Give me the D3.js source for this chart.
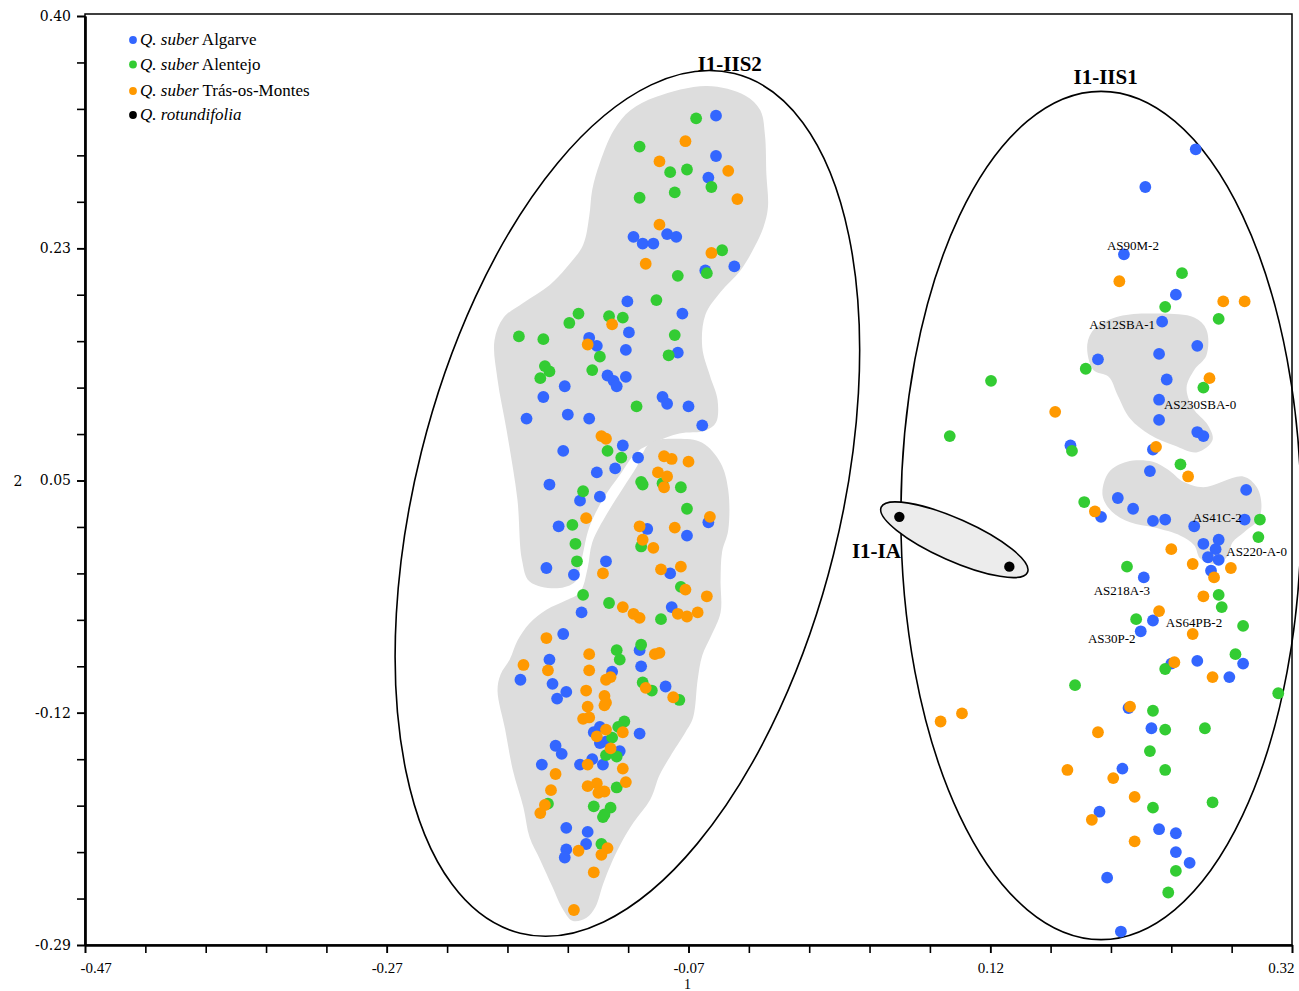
<!DOCTYPE html>
<html><head><meta charset="utf-8">
<script src="https://cdn.jsdelivr.net/npm/d3@7"></script>
<style>
html,body{margin:0;padding:0;background:#fff;}
svg{display:block;font-family:"Liberation Serif","Times New Roman",serif;}
</style></head><body>
<svg id="chart" width="1299" height="991"></svg>
<script>
// ---- axes ----
const xDomain = [-0.47, 0.32];
const yDomain = [-0.29, 0.40];
const xTickLabels = ["-0.47", "-0.27", "-0.07", "0.12", "0.32"];
const yTickLabels = ["-0.29", "-0.12", "0.05", "0.23", "0.40"];
const xTitle = "1";
const yTitle = "2";

// ---- samples (coordinate 1, coordinate 2) ----
const algarve = [
[-0.057,0.326],[-0.057,0.296],[-0.062,0.280],[-0.111,0.236],[-0.105,0.231],[-0.098,0.231],[-0.089,0.238],[-0.083,0.236],[-0.064,0.211],[-0.045,0.214],
[-0.115,0.188],[-0.079,0.179],[-0.114,0.165],[-0.140,0.161],[-0.135,0.155],[-0.116,0.152],[-0.082,0.150],[-0.128,0.133],[-0.124,0.129],[-0.122,0.125],
[-0.116,0.132],[-0.156,0.125],[-0.170,0.117],[-0.092,0.117],[-0.089,0.112],[-0.075,0.110],[-0.181,0.101],[-0.154,0.104],[-0.140,0.101],[-0.066,0.096],
[-0.118,0.081],[-0.157,0.077],[-0.108,0.072],[-0.123,0.064],[-0.135,0.061],[-0.166,0.052],[-0.146,0.040],[-0.133,0.043],[-0.062,0.024],[-0.160,0.021],
[-0.102,0.019],[-0.076,0.014],[-0.129,-0.005],[-0.168,-0.010],[-0.150,-0.015],[-0.087,-0.014],[-0.145,-0.043],[-0.086,-0.039],[-0.157,-0.059],[-0.107,-0.071],
[-0.166,-0.078],[-0.106,-0.083],[-0.125,-0.087],[-0.185,-0.093],[-0.164,-0.096],[-0.090,-0.098],[-0.155,-0.102],[-0.161,-0.107],[-0.137,-0.132],[-0.133,-0.128],
[-0.107,-0.133],[-0.133,-0.140],[-0.129,-0.139],[-0.120,-0.146],[-0.162,-0.142],[-0.158,-0.148],[-0.171,-0.156],[-0.146,-0.156],[-0.138,-0.152],[-0.131,-0.156],
[-0.155,-0.203],[-0.141,-0.206],[-0.142,-0.215],[-0.155,-0.219],[-0.156,-0.225],
[0.257,0.301],[0.224,0.273],[0.210,0.223],[0.244,0.193],[0.235,0.173],[0.258,0.155],[0.193,0.145],[0.233,0.149],[0.238,0.130],[0.233,0.115],
[0.233,0.100],[0.258,0.091],[0.262,0.088],[0.175,0.081],[0.229,0.078],[0.227,0.062],[0.290,0.048],[0.206,0.042],[0.216,0.034],[0.195,0.028],
[0.229,0.025],[0.237,0.026],[0.289,0.026],[0.256,0.021],[0.272,0.011],[0.262,0.008],[0.270,0.004],[0.265,-0.002],[0.272,-0.004],[0.267,-0.012],
[0.223,-0.017],[0.229,-0.049],[0.221,-0.057],[0.288,-0.081],[0.258,-0.079],[0.241,-0.081],[0.279,-0.091],[0.213,-0.114],[0.228,-0.129],[0.209,-0.159],
[0.194,-0.191],[0.233,-0.204],[0.244,-0.207],[0.244,-0.221],[0.253,-0.229],[0.199,-0.240],[0.208,-0.280]
];
const alentejo = [
[-0.070,0.324],[-0.107,0.303],[-0.087,0.284],[-0.076,0.286],[-0.060,0.273],[-0.107,0.265],[-0.084,0.269],[-0.053,0.226],[-0.082,0.207],[-0.063,0.209],
[-0.096,0.189],[-0.147,0.179],[-0.153,0.172],[-0.127,0.177],[-0.118,0.176],[-0.186,0.162],[-0.170,0.160],[-0.084,0.163],[-0.088,0.148],[-0.133,0.147],
[-0.169,0.140],[-0.166,0.136],[-0.172,0.131],[-0.138,0.137],[-0.109,0.110],[-0.128,0.077],[-0.119,0.072],[-0.106,0.054],[-0.105,0.052],[-0.092,0.053],
[-0.080,0.050],[-0.144,0.047],[-0.076,0.034],[-0.151,0.022],[-0.106,0.006],[-0.149,0.008],[-0.148,-0.005],[-0.080,-0.024],[-0.144,-0.030],[-0.127,-0.036],
[-0.093,-0.048],[-0.122,-0.071],[-0.106,-0.067],[-0.120,-0.078],[-0.105,-0.095],[-0.099,-0.101],[-0.081,-0.108],[-0.117,-0.124],[-0.121,-0.128],[-0.125,-0.136],
[-0.129,-0.149],[-0.122,-0.150],[-0.122,-0.173],[-0.167,-0.185],[-0.137,-0.187],[-0.126,-0.188],[-0.131,-0.195],[-0.130,-0.193],[-0.132,-0.215],
[0.248,0.209],[0.237,0.184],[0.272,0.175],[0.185,0.138],[0.262,0.124],[0.123,0.129],[0.096,0.088],[0.176,0.077],[0.247,0.067],[0.184,0.039],
[0.299,0.026],[0.298,0.013],[0.212,-0.009],[0.272,-0.030],[0.274,-0.039],[0.218,-0.048],[0.288,-0.053],[0.283,-0.074],[0.237,-0.085],[0.178,-0.097],
[0.311,-0.103],[0.229,-0.116],[0.237,-0.130],[0.263,-0.129],[0.227,-0.146],[0.237,-0.160],[0.229,-0.188],[0.268,-0.184],[0.244,-0.235],[0.239,-0.251]
];
const trasOsMontes = [
[-0.077,0.307],[-0.094,0.292],[-0.049,0.285],[-0.043,0.264],[-0.094,0.245],[-0.060,0.224],[-0.103,0.216],[-0.125,0.171],[-0.141,0.156],[-0.132,0.088],
[-0.129,0.086],[-0.091,0.073],[-0.086,0.071],[-0.075,0.069],[-0.095,0.061],[-0.089,0.058],[-0.091,0.050],[-0.061,0.028],[-0.142,0.027],[-0.107,0.021],
[-0.084,0.020],[-0.105,0.011],[-0.098,0.005],[-0.131,-0.014],[-0.093,-0.011],[-0.080,-0.009],[-0.077,-0.026],[-0.063,-0.031],[-0.118,-0.039],[-0.111,-0.044],
[-0.107,-0.047],[-0.082,-0.044],[-0.076,-0.046],[-0.069,-0.043],[-0.168,-0.062],[-0.097,-0.074],[-0.094,-0.073],[-0.183,-0.082],[-0.140,-0.074],[-0.167,-0.086],
[-0.140,-0.086],[-0.129,-0.093],[-0.126,-0.091],[-0.103,-0.099],[-0.142,-0.101],[-0.130,-0.105],[-0.129,-0.110],[-0.130,-0.112],[-0.085,-0.106],[-0.141,-0.113],
[-0.144,-0.122],[-0.140,-0.121],[-0.129,-0.130],[-0.118,-0.132],[-0.135,-0.135],[-0.126,-0.144],[-0.141,-0.156],[-0.162,-0.163],[-0.118,-0.159],[-0.116,-0.169],
[-0.165,-0.175],[-0.141,-0.172],[-0.135,-0.170],[-0.134,-0.177],[-0.130,-0.176],[-0.169,-0.186],[-0.172,-0.192],[-0.128,-0.218],[-0.132,-0.223],[-0.147,-0.220],
[-0.137,-0.236],[-0.150,-0.264],
[0.207,0.203],[0.275,0.188],[0.289,0.188],[0.266,0.131],[0.165,0.106],[0.231,0.080],[0.252,0.058],[0.191,0.032],[0.241,0.004],[0.255,-0.007],
[0.280,-0.010],[0.269,-0.017],[0.262,-0.031],[0.233,-0.042],[0.255,-0.059],[0.243,-0.080],[0.268,-0.091],[0.090,-0.124],[0.104,-0.118],[0.214,-0.113],
[0.193,-0.132],[0.173,-0.160],[0.203,-0.166],[0.217,-0.180],[0.189,-0.197],[0.217,-0.213]
];
const rotundifolia = [[0.063,0.028],[0.135,-0.009]];

// named Algarve samples (index into algarve)
const sampleNames = ["AS90M-2","AS12SBA-1","AS230SBA-0","AS41C-2","AS220-A-0","AS218A-3","AS64PB-2","AS30P-2"];
const sampleIndex = [77, 79, 84, 98, 101, 105, 106, 107];

// ---- group outlines ----
const hullIIS2upper = [
[-0.096,0.340],[-0.063,0.348],[-0.038,0.341],[-0.028,0.330],[-0.025,0.312],[-0.024,0.282],[-0.023,0.258],[-0.026,0.243],[-0.032,0.228],[-0.041,0.211],
[-0.054,0.195],[-0.064,0.178],[-0.066,0.154],[-0.061,0.133],[-0.056,0.115],[-0.057,0.098],[-0.064,0.092],[-0.081,0.090],[-0.096,0.084],[-0.109,0.076],
[-0.120,0.059],[-0.131,0.041],[-0.140,0.020],[-0.145,-0.004],[-0.149,-0.020],[-0.161,-0.025],[-0.179,-0.020],[-0.184,-0.004],[-0.187,0.041],[-0.194,0.092],
[-0.200,0.130],[-0.202,0.159],[-0.196,0.176],[-0.183,0.187],[-0.166,0.200],[-0.155,0.213],[-0.144,0.230],[-0.140,0.251],[-0.138,0.271],[-0.133,0.291],
[-0.124,0.315],[-0.113,0.330]
];
const hullIIS2lower = [
[-0.100,0.083],[-0.082,0.086],[-0.066,0.083],[-0.054,0.068],[-0.049,0.048],[-0.049,0.018],[-0.053,0.002],[-0.054,-0.019],[-0.054,-0.043],[-0.060,-0.060],
[-0.066,-0.075],[-0.069,-0.093],[-0.072,-0.121],[-0.077,-0.132],[-0.087,-0.150],[-0.094,-0.164],[-0.100,-0.182],[-0.111,-0.199],[-0.118,-0.212],[-0.125,-0.228],
[-0.131,-0.245],[-0.136,-0.262],[-0.142,-0.270],[-0.151,-0.272],[-0.158,-0.262],[-0.164,-0.247],[-0.172,-0.227],[-0.179,-0.210],[-0.183,-0.188],[-0.190,-0.160],
[-0.195,-0.130],[-0.200,-0.101],[-0.198,-0.089],[-0.192,-0.078],[-0.187,-0.064],[-0.179,-0.051],[-0.168,-0.041],[-0.155,-0.034],[-0.146,-0.028],[-0.141,-0.010],
[-0.138,0.009],[-0.128,0.031],[-0.118,0.049],[-0.109,0.065]
];
const hullIIS1upper = [
[0.186,0.156],[0.191,0.168],[0.207,0.177],[0.234,0.179],[0.256,0.176],[0.264,0.167],[0.264,0.148],[0.256,0.137],[0.251,0.124],[0.255,0.109],
[0.265,0.096],[0.268,0.085],[0.258,0.076],[0.243,0.081],[0.227,0.089],[0.214,0.101],[0.206,0.118],[0.200,0.132],[0.190,0.137]
];
const hullIIS1lower = [
[0.196,0.044],[0.200,0.061],[0.212,0.069],[0.229,0.069],[0.239,0.063],[0.249,0.054],[0.262,0.050],[0.288,0.058],[0.297,0.050],[0.300,0.037],
[0.298,0.026],[0.289,0.017],[0.281,0.009],[0.278,-0.001],[0.270,-0.007],[0.260,-0.003],[0.256,0.007],[0.247,0.014],[0.230,0.020],[0.214,0.024],
[0.202,0.032]
];

// ---- cluster ellipses (centre, semi-axes in data units, tilt in degrees) ----
const clusterNames = ["I1-IIS2", "I1-IIS1", "I1-IA"];
const clusterCentres = [[-0.115, 0.038], [0.195, 0.029], [0.099, 0.011]];
const clusterRadii = [[0.139, 0.329], [0.131, 0.315], [0.0524, 0.0156]];
const clusterTilt = [14, 0, 24];
const clusterLabelAt = [[-0.048, 0.364], [0.198, 0.355], [0.048, 0.003]];

// ---- layout ----
const svg = d3.select("#chart");
const x = d3.scaleLinear().domain(xDomain).range([85, 1292]);
const y = d3.scaleLinear().domain(yDomain).range([945, 16]);

const series = [
  { genus: "Q.", epithet: "suber", region: "Algarve", color: "#3366ff", data: algarve, r: 5.9 },
  { genus: "Q.", epithet: "suber", region: "Alentejo", color: "#33cc33", data: alentejo, r: 5.9 },
  { genus: "Q.", epithet: "suber", region: "Trás-os-Montes", color: "#ff9900", data: trasOsMontes, r: 5.9 },
  { genus: "Q.", epithet: "rotundifolia", region: "", color: "#000000", data: rotundifolia, r: 5.2 }
];

// grey group outlines
const outline = d3.line().x(d => x(d[0])).y(d => y(d[1])).curve(d3.curveCatmullRomClosed.alpha(0.5));
svg.append("g").selectAll("path")
  .data([hullIIS2upper, hullIIS2lower, hullIIS1upper, hullIIS1lower])
  .join("path")
  .attr("d", outline)
  .attr("fill", "#dddddd");

// cluster ellipses
const ellG = svg.append("g");
clusterCentres.forEach((c, i) => {
  const cx = x(c[0]), cy = y(c[1]);
  const rx = x(c[0] + clusterRadii[i][0]) - cx;
  const ry = y(c[1] - clusterRadii[i][1]) - cy;
  ellG.append("ellipse")
    .attr("cx", 0).attr("cy", 0)
    .attr("rx", rx).attr("ry", ry)
    .attr("transform", `translate(${cx},${cy}) rotate(${clusterTilt[i]})`)
    .attr("fill", i === 2 ? "#ececec" : "none")
    .attr("stroke", "#000")
    .attr("stroke-width", 1.6);
});

// points
const ptG = svg.append("g");
series.forEach(s => {
  ptG.append("g").selectAll("circle")
    .data(s.data)
    .join("circle")
    .attr("cx", d => x(d[0]))
    .attr("cy", d => y(d[1]))
    .attr("r", s.r)
    .attr("fill", s.color);
});

// sample names
const nameOffset = [[9,-9],[-40,3],[41,5],[23,-9],[41,2],[-22,13],[41,2],[-29,7]];
svg.append("g").selectAll("text")
  .data(sampleNames)
  .join("text")
  .attr("x", (d, i) => x(algarve[sampleIndex[i]][0]) + nameOffset[i][0])
  .attr("y", (d, i) => y(algarve[sampleIndex[i]][1]) + nameOffset[i][1])
  .attr("text-anchor", "middle")
  .attr("dominant-baseline", "central")
  .attr("font-size", 13)
  .attr("fill", "#000")
  .text(d => d);

// cluster names
svg.append("g").selectAll("text")
  .data(clusterNames)
  .join("text")
  .attr("x", (d, i) => x(clusterLabelAt[i][0]))
  .attr("y", (d, i) => y(clusterLabelAt[i][1]))
  .attr("text-anchor", "middle")
  .attr("dominant-baseline", "central")
  .attr("font-size", 21)
  .attr("font-weight", "bold")
  .attr("fill", "#000")
  .text(d => d);

// frame
const x0 = x(xDomain[0]), x1 = x(xDomain[1]), y0 = y(yDomain[0]), y1 = y(yDomain[1]);
svg.append("rect")
  .attr("x", x0).attr("y", y1 - 2).attr("width", x1 - x0).attr("height", y0 - y1 + 2)
  .attr("fill", "none").attr("stroke", "#000").attr("stroke-width", 1.5);

// axes
const xMajor = d3.range(5).map(i => xDomain[0] + i * (xDomain[1] - xDomain[0]) / 4);
const xMinor = d3.range(21).map(i => xDomain[0] + i * (xDomain[1] - xDomain[0]) / 20);
const yMajor = d3.range(5).map(i => yDomain[0] + i * (yDomain[1] - yDomain[0]) / 4);
const yMinor = d3.range(21).map(i => yDomain[0] + i * (yDomain[1] - yDomain[0]) / 20);

const gxMinor = svg.append("g").attr("transform", `translate(0,${y0})`)
  .call(d3.axisBottom(x).tickValues(xMinor).tickFormat("").tickSize(8).tickSizeOuter(0));
const gx = svg.append("g").attr("transform", `translate(0,${y0})`)
  .call(d3.axisBottom(x).tickValues(xMajor).tickFormat((d, i) => xTickLabels[i]).tickSize(8).tickPadding(9).tickSizeOuter(0));
gx.selectAll("text")
  .attr("font-family", "'Liberation Serif', serif")
  .attr("font-size", 15)
  .attr("fill", "#000")
  .attr("text-anchor", (d, i) => i === 0 ? "start" : (i === 4 ? "end" : "middle"))
  .attr("dx", (d, i) => i === 0 ? -5 : (i === 4 ? 2 : 0));

const gyMinor = svg.append("g").attr("transform", `translate(${x0},0)`)
  .call(d3.axisLeft(y).tickValues(yMinor).tickFormat("").tickSize(8).tickSizeOuter(0));
const gy = svg.append("g").attr("transform", `translate(${x0},0)`)
  .call(d3.axisLeft(y).tickValues(yMajor).tickFormat((d, i) => yTickLabels[i]).tickSize(8).tickPadding(6).tickSizeOuter(0));
gy.selectAll("text")
  .attr("font-family", "'DejaVu Serif', serif")
  .attr("font-size", 14)
  .attr("fill", "#000");

[gx, gy, gxMinor, gyMinor].forEach(g => {
  g.selectAll(".domain").attr("stroke", "#000").attr("stroke-width", 2.2);
  g.selectAll(".tick line").attr("stroke", "#000").attr("stroke-width", 1.6);
});

// axis titles
svg.append("text").attr("x", (x0 + x1) / 2 - 1).attr("y", 989)
  .attr("text-anchor", "middle").attr("font-size", 14).text(xTitle);
svg.append("text").attr("x", 18).attr("y", (y0 + y1) / 2)
  .attr("text-anchor", "middle").attr("dominant-baseline", "central")
  .attr("font-family", "'DejaVu Serif', serif").attr("font-size", 14).text(yTitle);

// legend
const leg = svg.append("g").attr("transform", "translate(133,40)");
const rowGap = [0, 24.5, 51, 75];
series.forEach((s, i) => {
  const row = leg.append("g").attr("transform", `translate(0,${rowGap[i]})`);
  row.append("circle").attr("r", 3.9).attr("fill", s.color);
  const t = row.append("text").attr("x", 7).attr("y", 5).attr("font-size", 17).attr("fill", "#000");
  t.append("tspan").attr("font-style", "italic").text(`${s.genus} ${s.epithet}`);
  if (s.region) t.append("tspan").text(` ${s.region}`);
});
</script>
</body></html>
